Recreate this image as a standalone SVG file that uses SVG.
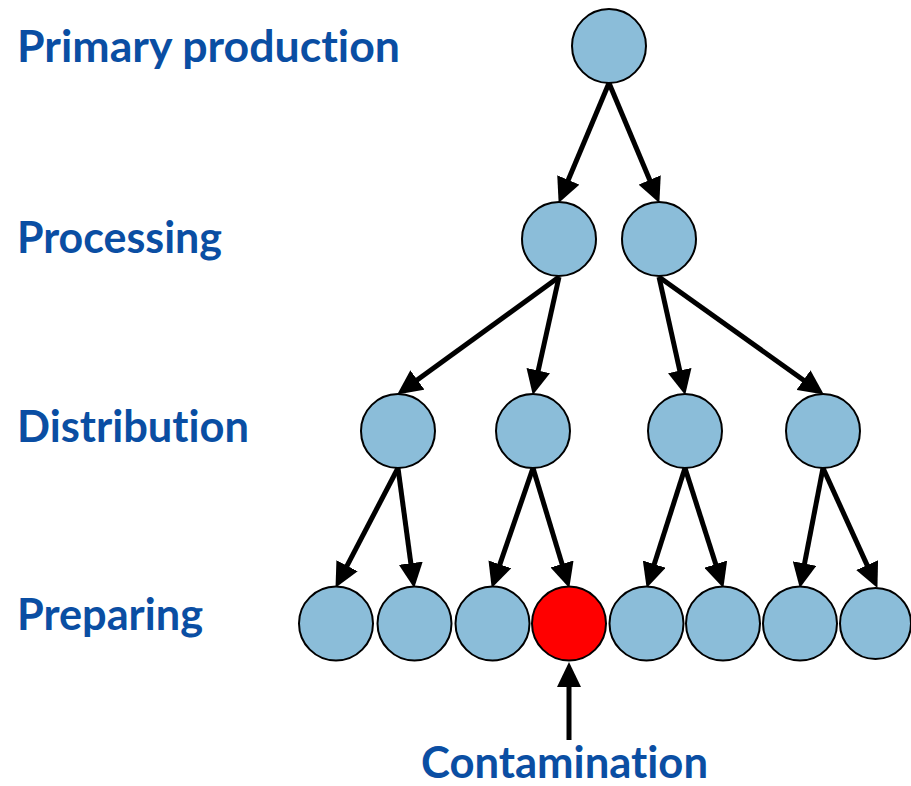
<svg xmlns="http://www.w3.org/2000/svg" width="911" height="786" viewBox="0 0 911 786">
  <style>
    .label { font-family: Lato, "Open Sans", "Liberation Sans", sans-serif; font-weight: bold; font-size: 44px; fill: #0A4EA3; font-variant-ligatures: none; }
    .node { fill: #8BBDD9; stroke: #000; stroke-width: 2; }
    .hot { fill: #FF0000; stroke: #000; stroke-width: 2; }
    .edge { stroke: #000; stroke-width: 5; fill: none; marker-end: url(#head); }
  </style>
  <defs>
    <marker id="head" markerUnits="userSpaceOnUse" markerWidth="26" markerHeight="24" viewBox="0 0 26 24" refX="14" refY="12" orient="auto">
      <path d="M0,0 L25,12 L0,24 Z" fill="#000"/>
    </marker>
  </defs>

  <rect width="911" height="786" fill="#fff"/>

  <!-- stage labels -->
  <g id="labels">
    <text class="label" x="17" y="62" textLength="383" lengthAdjust="spacingAndGlyphs">Primary production</text>
    <text class="label" x="17" y="253" textLength="205" lengthAdjust="spacingAndGlyphs">Processing</text>
    <text class="label" x="17" y="442" textLength="232" lengthAdjust="spacingAndGlyphs">Distribution</text>
    <text class="label" x="17" y="630" textLength="186" lengthAdjust="spacingAndGlyphs">Preparing</text>
    <text class="label" x="421" y="778" textLength="287" lengthAdjust="spacingAndGlyphs">Contamination</text>
  </g>

  <!-- connectors -->
  <g id="connectors">
    <line class="edge" x1="609" y1="83" x2="562.9" y2="192.8"/>
    <line class="edge" x1="609" y1="83" x2="655.1" y2="192.8"/>
    <line class="edge" x1="559" y1="277" x2="406.1" y2="388.1"/>
    <line class="edge" x1="559" y1="277" x2="535.2" y2="384.2"/>
    <line class="edge" x1="659" y1="277" x2="682.8" y2="384.2"/>
    <line class="edge" x1="659" y1="277" x2="814.9" y2="388.2"/>
    <line class="edge" x1="398" y1="468" x2="340.6" y2="578.1"/>
    <line class="edge" x1="398" y1="468" x2="412.7" y2="577.1"/>
    <line class="edge" x1="533" y1="468" x2="495.3" y2="577.6"/>
    <line class="edge" x1="533" y1="468" x2="566.1" y2="577.4"/>
    <line class="edge" x1="685" y1="468" x2="650.0" y2="577.5"/>
    <line class="edge" x1="685" y1="468" x2="720.0" y2="577.5"/>
    <line class="edge" x1="823" y1="468" x2="801.9" y2="577.2"/>
    <line class="edge" x1="823" y1="468" x2="872.9" y2="577.9"/>
    <line class="edge" x1="569" y1="740" x2="569" y2="673"/>
  </g>

  <!-- primary production -->
  <g id="n-root"><circle class="node" cx="609" cy="46" r="37"/></g>

  <!-- processing -->
  <g id="n-p1"><circle class="node" cx="559" cy="239" r="37"/></g>
  <g id="n-p2"><circle class="node" cx="659" cy="239" r="37"/></g>

  <!-- distribution -->
  <g id="n-d1"><circle class="node" cx="398" cy="431" r="37"/></g>
  <g id="n-d2"><circle class="node" cx="533" cy="431" r="37"/></g>
  <g id="n-d3"><circle class="node" cx="685" cy="431" r="37"/></g>
  <g id="n-d4"><circle class="node" cx="823" cy="431" r="37"/></g>

  <!-- preparing -->
  <g id="n-r1"><circle class="node" cx="336" cy="623.5" r="37"/></g>
  <g id="n-r2"><circle class="node" cx="414.5" cy="623.5" r="37"/></g>
  <g id="n-r3"><circle class="node" cx="492.5" cy="623.5" r="37"/></g>
  <g id="n-r4"><circle class="hot" cx="569" cy="623.5" r="37"/></g>
  <g id="n-r5"><circle class="node" cx="646.5" cy="623.5" r="37"/></g>
  <g id="n-r6"><circle class="node" cx="723" cy="623.5" r="37"/></g>
  <g id="n-r7"><circle class="node" cx="800" cy="623.5" r="37"/></g>
  <g id="n-r8"><circle class="node" cx="875.5" cy="623.5" r="35.5"/></g>
</svg>
